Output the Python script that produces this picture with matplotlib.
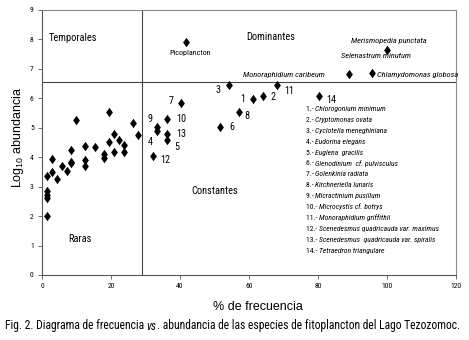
"""
plot.py

Frequency vs abundance diagram of phytoplankton species.
"""

import matplotlib

matplotlib.use("Agg")

import matplotlib.pyplot as plt
from matplotlib import font_manager
from matplotlib.path import Path


def pick_font(names):

    available = {f.name for f in font_manager.fontManager.ttflist}

    for name in names:
        if name in available:
            return name

    return "DejaVu Sans"


NARROW = pick_font(["Liberation Sans Narrow", "Roboto Condensed", "Liberation Sans"])
REGULAR = pick_font(["Liberation Sans", "Roboto", "DejaVu Sans"])

plt.rcParams["mathtext.fontset"] = "custom"
plt.rcParams["mathtext.rm"] = REGULAR

# unlabelled species (Raras)
rare_freq = [1.5, 1.5, 1.5, 1.5, 1.5, 3.0, 3.0, 4.3, 5.7, 7.2, 8.4, 8.4, 8.4,
             9.9, 12.6, 12.6, 12.6, 15.4, 18.1, 18.1, 19.5, 19.5, 21.0, 21.0,
             22.3, 23.7, 23.7, 26.4, 27.8]
rare_abund = [2.0, 2.61, 2.72, 2.86, 3.36, 3.93, 3.51, 3.25, 3.69, 3.54, 3.80,
              3.85, 4.24, 5.25, 4.39, 3.92, 3.69, 4.36, 4.12, 3.97, 5.54, 4.50,
              4.78, 4.19, 4.59, 4.42, 4.19, 5.17, 4.74]

# numbered species (1-14)
num_labels = ["1", "2", "3", "4", "5", "6", "7", "8", "9", "10", "11", "12",
              "13", "14"]
num_freq = [61.2, 64.0, 54.2, 33.4, 36.3, 51.5, 40.4, 57.0, 33.4, 36.3, 68.0,
            32.1, 36.3, 80.4]
num_abund = [5.98, 6.07, 6.46, 4.88, 4.57, 5.01, 5.85, 5.53, 5.02, 5.30, 6.44,
             4.05, 4.80, 6.08]
num_offsets = [(-8, 0), (8, -1), (-8, -5), (-4, -11), (7, -7), (10, 0),
               (-8, 2), (6, -4), (-5, 8), (9, 0), (8, -6), (8, -4), (9, 0),
               (7, -4)]
num_align = ["right", "left", "right", "right", "left", "left", "right",
             "left", "right", "left", "left", "left", "left", "left"]

# named species
named_freq = [41.8, 100.0, 89.0, 95.7]
named_abund = [7.93, 7.65, 6.84, 6.85]

legend_items = [
    ("1.- ", "Chlorogonium minimum"),
    ("2.- ", "Cryptomonas ovata"),
    ("3.- ", "Cyclotella meneghiniana"),
    ("4.- ", "Eudorina elegans"),
    ("5.- ", "Euglena  gracilis"),
    ("6.- ", "Glenodinium  cf. pulvisculus"),
    ("7.- ", "Golenkinia radiata"),
    ("8.- ", "Kirchneriella lunaris"),
    ("9.- ", "Micractinium pusillum"),
    ("10.- ", "Microcystis cf. botrys"),
    ("11.- ", "Monoraphidium griffithii"),
    ("12.- ", "Scenedesmus quadricauda var. maximus"),
    ("13.- ", "Scenedesmus  quadricauda var. spiralis"),
    ("14.- ", "Tetraedron triangulare"),
]

diamond = Path([(0, 1), (0.72, 0), (0, -1), (-0.72, 0), (0, 1)],
               [Path.MOVETO, Path.LINETO, Path.LINETO, Path.LINETO,
                Path.CLOSEPOLY])

fig = plt.figure(figsize=(4.69, 3.40), dpi=100)
ax = fig.add_axes([0.0896, 0.1912, 0.8827, 0.7794])

marker_style = dict(marker=diamond, s=46, color="black", linewidths=0,
                    zorder=3)

ax.scatter(rare_freq, rare_abund, **marker_style)
ax.scatter(num_freq, num_abund, **marker_style)
ax.scatter(named_freq, named_abund, **marker_style)

ax.axvline(29, color="#444444", linewidth=0.8, zorder=1)
ax.axhline(6.55, color="#444444", linewidth=0.8, zorder=1)

for label, x, y, off, ha in zip(num_labels, num_freq, num_abund, num_offsets,
                                num_align):
    ax.annotate(label, (x, y), xytext=off, textcoords="offset pixels",
                ha=ha, va="center", fontsize=7.3, family=NARROW)

# quadrant names
quad_style = dict(fontsize=7.5, family=NARROW)
ax.text(2, 8.06, "Temporales", ha="left", va="center", **quad_style)
ax.text(59.1, 8.07, "Dominantes", ha="left", va="center", **quad_style)
ax.text(43.4, 2.86, "Constantes", ha="left", va="center", **quad_style)
ax.text(7.6, 1.22, "Raras", ha="left", va="center", **quad_style)

ax.text(42.9, 7.55, "Picoplancton", ha="center", va="center", fontsize=5.8,
        family=NARROW)

species_style = dict(fontsize=6, family=NARROW, style="italic", va="center")
ax.text(89.6, 7.94, "Merismopedia punctata", ha="left", **species_style)
ax.text(86.7, 7.43, "Selenastrum minutum", ha="left", **species_style)
ax.text(58.3, 6.80, "Monoraphidium caribeum", ha="left", **species_style)
ax.text(97.0, 6.80, "Chlamydomonas globosa", ha="left", **species_style)

ax.set_xlim(0, 120)
ax.set_ylim(0, 9)
ax.set_xticks(range(0, 121, 20))
ax.set_yticks(range(0, 10))

for tick in ax.get_xticklabels() + ax.get_yticklabels():
    tick.set_family(NARROW)
    tick.set_fontsize(5.5)

ax.tick_params(direction="out", length=3, width=0.6, colors="#555555",
               labelcolor="black", pad=3)

for side in ["left", "bottom"]:
    ax.spines[side].set_color("#555555")
    ax.spines[side].set_linewidth(0.8)

for side in ["top", "right"]:
    ax.spines[side].set_color("#888888")
    ax.spines[side].set_linewidth(0.8)

fig.text(0.549, 0.098, "% de frecuencia", ha="center", va="center",
         fontsize=9, family=REGULAR)
fig.text(0.038, 0.596, "Log$_{10}$ abundancia", ha="center", va="center",
         rotation=90, fontsize=9, family=REGULAR)

# legend block and caption are built from pieces
fig.canvas.draw()
renderer = fig.canvas.get_renderer()
inv = fig.transFigure.inverted()

legend_x = 306 / 469
legend_top = 1 - 109 / 340
legend_step = 10.9 / 340

for i, (prefix, name) in enumerate(legend_items):
    y = legend_top - i * legend_step
    t = fig.text(legend_x, y, prefix, ha="left", va="center", fontsize=5.5,
                 family=NARROW)
    bb = t.get_window_extent(renderer)
    x_end = inv.transform((bb.x1, bb.y0))[0]
    fig.text(x_end, y, name, ha="left", va="center", fontsize=5.5,
             family=NARROW, style="italic")

caption_pieces = [
    ("Fig. 2. Diagrama de frecuencia ", "normal"),
    ("vs", "italic"),
    (". abundancia de las especies de fitoplancton del Lago Tezozomoc.",
     "normal"),
]

x = 5 / 469
for text, style in caption_pieces:
    t = fig.text(x, 1 - 326 / 340, text, ha="left", va="center",
                 fontsize=8.4, family=NARROW, style=style)
    bb = t.get_window_extent(renderer)
    x = inv.transform((bb.x1, bb.y0))[0]

fig.savefig("out.png", dpi=100)
plt.close(fig)
